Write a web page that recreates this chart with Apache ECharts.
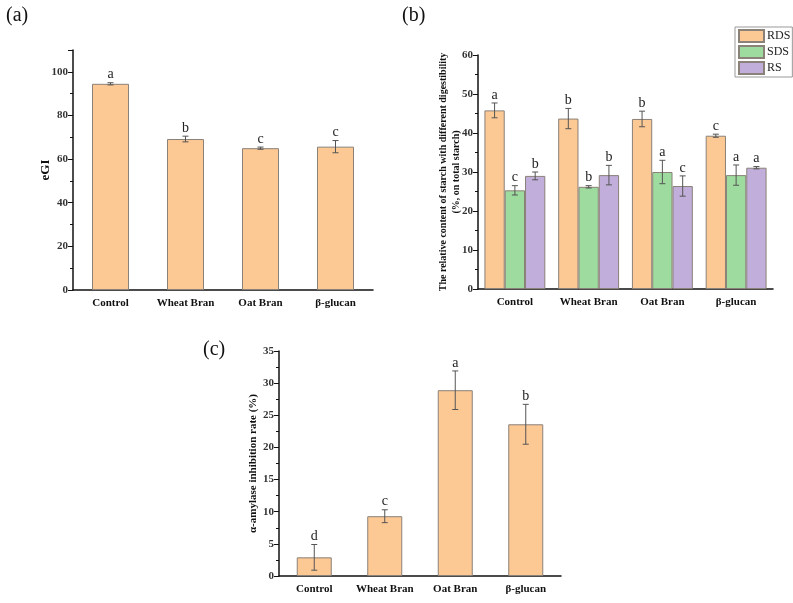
<!DOCTYPE html>
<html><head><meta charset="utf-8">
<script src="https://cdn.jsdelivr.net/npm/echarts@6/dist/echarts.min.js"></script>
<style>html,body{margin:0;padding:0;background:#fff}#c{width:793px;height:603px}</style>
</head><body><div id="c"></div>
<script>
const categories = ['Control', 'Wheat Bran', 'Oat Bran', 'β-glucan'];
// (a) eGI
const eGI = [94.5, 69.2, 65.0, 65.7];
const eGIErr = [0.5, 1.3, 0.5, 2.8];
const eGILetters = ['a', 'b', 'c', 'c'];
// (b) starch fractions
const RDS = [45.8, 43.7, 43.6, 39.3];
const RDSErr = [1.9, 2.6, 2.0, 0.4];
const RDSLetters = ['a', 'b', 'b', 'c'];
const SDS = [25.3, 26.2, 30.0, 29.2];
const SDSErr = [1.2, 0.3, 3.0, 2.6];
const SDSLetters = ['c', 'b', 'a', 'a'];
const RS = [29.0, 29.2, 26.4, 31.1];
const RSErr = [1.0, 2.5, 2.6, 0.3];
const RSLetters = ['b', 'b', 'c', 'a'];
// (c) alpha-amylase inhibition
const inhib = [2.9, 9.3, 28.9, 23.6];
const inhibErr = [2.0, 1.0, 3.0, 3.1];
const inhibLetters = ['d', 'c', 'a', 'b'];

const ORANGE = '#FCC894', GREEN = '#9EDB9E', PURPLE = '#C1AEDA';
const SERIF = '"Liberation Serif","Times New Roman",serif';

function errSeries(gi, vals, errs, letters, offset, capW) {
  return {
    type: 'custom', xAxisIndex: gi, yAxisIndex: gi, z: 10,
    data: vals.map((v, i) => [i, v, errs[i], letters[i]]),
    renderItem: function (params, api) {
      const x = api.value(0), v = api.value(1), e = api.value(2), l = api.value(3);
      const top = api.coord([x, v + e]);
      const bot = api.coord([x, v - e]);
      const cx = top[0] + offset;
      const st = { stroke: '#555', lineWidth: 1 };
      return {
        type: 'group', children: [
          { type: 'line', shape: { x1: cx, y1: top[1], x2: cx, y2: bot[1] }, style: st },
          { type: 'line', shape: { x1: cx - capW, y1: top[1], x2: cx + capW, y2: top[1] }, style: st },
          { type: 'line', shape: { x1: cx - capW, y1: bot[1], x2: cx + capW, y2: bot[1] }, style: st },
          { type: 'text', style: { text: l, x: cx, y: top[1] - 1, textAlign: 'center', textVerticalAlign: 'bottom', font: '14px ' + SERIF, fill: '#222' } }
        ]
      };
    }
  };
}

function xAx(gi) {
  return {
    type: 'category', gridIndex: gi, data: categories,
    axisLine: { lineStyle: { color: '#111', width: 1.5 } },
    axisTick: { alignWithLabel: true, length: 4, lineStyle: { color: '#111' } },
    axisLabel: { interval: 0, fontFamily: SERIF, fontWeight: 'bold', fontSize: 11, color: '#111', margin: 8 }
  };
}
function yAx(gi, max, interval, name, nameGap, nameSize, showMax) {
  return {
    type: 'value', gridIndex: gi, min: 0, max: max, interval: interval,
    name: name, nameLocation: 'middle', nameGap: nameGap, nameMoveOverlap: false,
    nameTextStyle: { fontFamily: SERIF, fontWeight: 'bold', fontSize: nameSize, color: '#111', lineHeight: 13 },
    axisLine: { show: true, lineStyle: { color: '#111', width: 1.5 } },
    axisTick: { show: true, length: 5, lineStyle: { color: '#111' } },
    minorTick: { show: true, splitNumber: 2, length: 3, lineStyle: { color: '#111' } },
    splitLine: { show: false },
    axisLabel: { fontFamily: SERIF, fontWeight: 'bold', fontSize: 11, color: '#333', margin: 5, showMaxLabel: showMax }
  };
}

const bar = (gi, name, data, color, width) => ({
  type: 'bar', name: name, xAxisIndex: gi, yAxisIndex: gi, data: data, barWidth: width, barGap: '0%',
  itemStyle: { color: color, borderColor: '#8a8178', borderWidth: 1 }
});

const chart = echarts.init(document.getElementById('c'), null, { renderer: 'canvas' });
chart.setOption({
  animation: false,
  backgroundColor: '#fff',
  grid: [
    { left: 73, top: 50, width: 300, height: 240 },
    { left: 478, top: 55, width: 295, height: 234 },
    { left: 279, top: 351, width: 282, height: 225 }
  ],
  xAxis: [xAx(0), xAx(1), xAx(2)],
  yAxis: [
    yAx(0, 110, 20, 'eGI', 21, 13, false),
    yAx(1, 60, 10, 'The relative content of starch with different digestibility\n(%, on total starch)', 15, 10, true),
    yAx(2, 35, 5, 'α-amylase inhibition rate (%)', 19, 11, true)
  ],
  legend: {
    data: ['RDS', 'SDS', 'RS'], orient: 'vertical', left: 735, top: 27,
    icon: 'rect', itemWidth: 25, itemHeight: 12, itemGap: 2, padding: [2, 2, 2, 3],
    borderColor: '#999', borderWidth: 1,
    textStyle: { fontFamily: SERIF, fontSize: 12, color: '#222', padding: [0, 0, 0, -2] }
  },
  graphic: [
    { type: 'text', left: 6, top: 6, style: { text: '(a)', font: '20px ' + SERIF, fill: '#111' } },
    { type: 'text', left: 402, top: 6, style: { text: '(b)', font: '20px ' + SERIF, fill: '#111' } },
    { type: 'text', left: 203, top: 340, style: { text: '(c)', font: '20px ' + SERIF, fill: '#111' } }
  ],
  series: [
    bar(0, 'eGI', eGI, ORANGE, 37),
    errSeries(0, eGI, eGIErr, eGILetters, 0, 3),
    bar(1, 'RDS', RDS, ORANGE, 20.3),
    bar(1, 'SDS', SDS, GREEN, 20.3),
    bar(1, 'RS', RS, PURPLE, 20.3),
    errSeries(1, RDS, RDSErr, RDSLetters, -20.3, 3),
    errSeries(1, SDS, SDSErr, SDSLetters, 0, 3),
    errSeries(1, RS, RSErr, RSLetters, 20.3, 3),
    bar(2, 'inhib', inhib, ORANGE, 35),
    errSeries(2, inhib, inhibErr, inhibLetters, 0, 3)
  ]
});
</script></body></html>
